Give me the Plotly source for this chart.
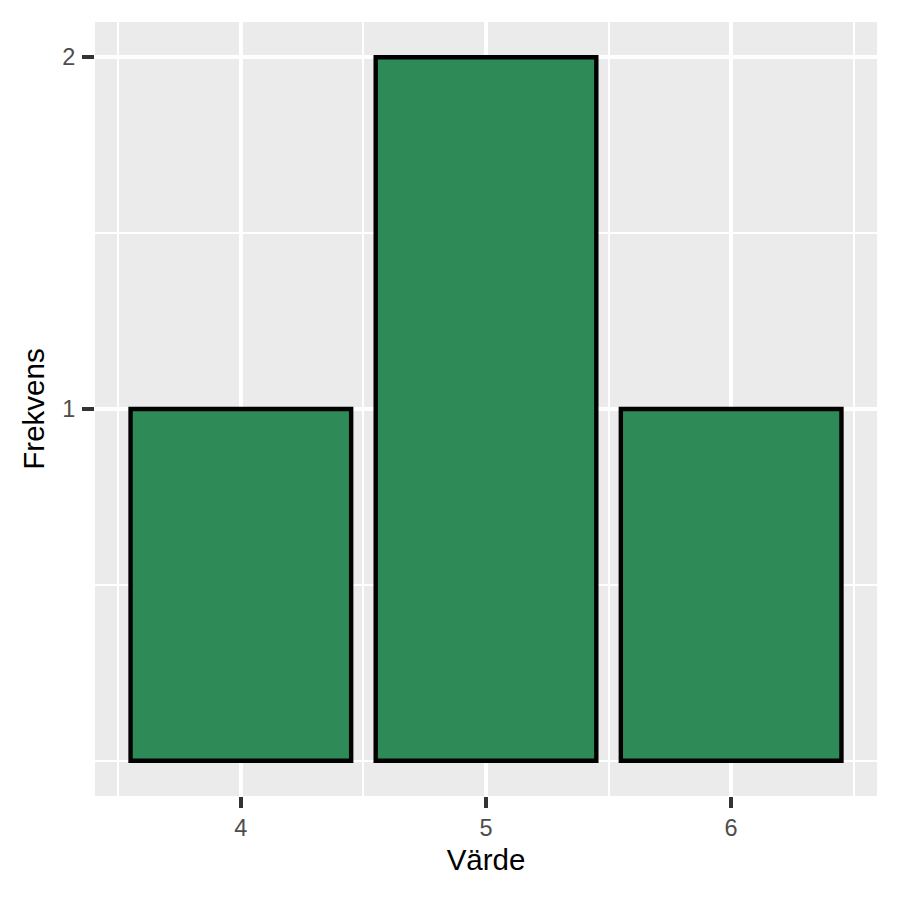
import plotly.graph_objects as go

# Data
values = [4, 5, 6]
counts = [1, 2, 1]
x_ticks = [4, 5, 6]
y_ticks = [1, 2]
x_minor = [3.5, 4.5, 5.5, 6.5]
y_minor = [0, 0.5, 1.5]

FONT = "Liberation Sans, Arial, sans-serif"

fig = go.Figure(
    go.Bar(
        x=values,
        y=counts,
        width=0.9,
        marker=dict(color="#2E8B57", line=dict(color="black", width=4.4)),
        hoverinfo="x+y",
    )
)

fig.update_layout(
    width=900,
    height=900,
    margin=dict(l=95, r=23, t=22, b=104),
    paper_bgcolor="white",
    plot_bgcolor="#EBEBEB",
    showlegend=False,
    font=dict(family=FONT),
    xaxis=dict(
        range=[3.405, 6.595],
        tickvals=x_ticks,
        ticktext=[str(v) for v in x_ticks],
        showgrid=True,
        gridcolor="white",
        gridwidth=3.7,
        zeroline=False,
        showline=False,
        ticks="outside",
        ticklen=11,
        tickwidth=3.7,
        tickcolor="#333333",
        tickfont=dict(family=FONT, size=23.5, color="#4D4D4D"),
        minor=dict(tickvals=x_minor, showgrid=True, gridcolor="white", gridwidth=1.85, ticks=""),
        title=dict(text="Värde", font=dict(family=FONT, size=29.5, color="black"), standoff=9),
        automargin=False,
        fixedrange=True,
    ),
    yaxis=dict(
        range=[-0.1, 2.1],
        tickvals=y_ticks,
        ticktext=[str(v) for v in y_ticks],
        showgrid=True,
        gridcolor="white",
        gridwidth=3.7,
        zeroline=False,
        showline=False,
        ticks="outside",
        ticklen=12,
        tickwidth=3.7,
        tickcolor="#333333",
        tickfont=dict(family=FONT, size=23.5, color="#4D4D4D"),
        ticklabelstandoff=2,
        minor=dict(tickvals=y_minor, showgrid=True, gridcolor="white", gridwidth=1.85, ticks=""),
        title=dict(text="Frekvens", font=dict(family=FONT, size=29.5, color="black"), standoff=8),
        automargin=False,
        fixedrange=True,
    ),
)

fig.write_html(
    "out.html",
    config={"displayModeBar": False},
    post_script="document.body.style.margin='0';document.body.style.padding='0';",
)
